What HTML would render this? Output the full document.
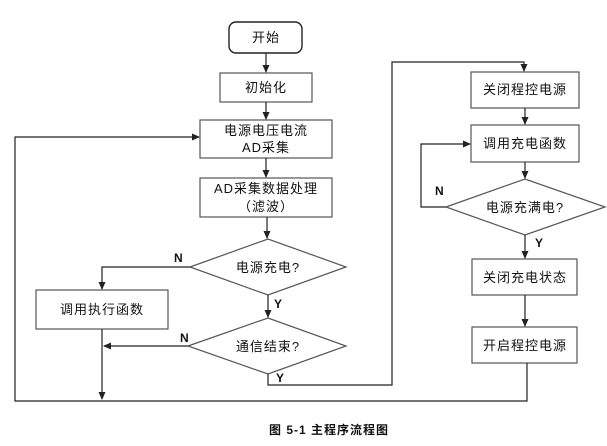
<!DOCTYPE html>
<html><head><meta charset="utf-8"><style>
html,body{margin:0;padding:0;background:#fff;}
svg text{font-family:"Liberation Sans","Noto Sans CJK SC",sans-serif;fill:#111;}
</style></head><body>
<svg width="607" height="441" viewBox="0 0 607 441" xmlns="http://www.w3.org/2000/svg">
<defs><marker id="a" markerWidth="8" markerHeight="8" refX="7" refY="4" orient="auto" markerUnits="userSpaceOnUse"><path d="M0,0.5 L8,4 L0,7.5z" fill="#222"/></marker></defs>
<g fill="none" stroke="#555" stroke-width="1.2">
<rect x="229" y="22" width="73" height="31" rx="7" stroke="#222" stroke-width="1.4"/>
<rect x="220" y="73" width="92" height="29"/>
<rect x="200" y="120" width="132" height="38"/>
<rect x="200" y="178" width="132" height="39"/>
<polygon points="190,267 268,239 346,267 268,295"/>
<polygon points="188,346 268,318 346,346 268,374"/>
<rect x="36" y="290" width="132" height="39"/>
<rect x="471" y="72" width="108" height="36"/>
<rect x="471" y="125" width="108" height="37"/>
<polygon points="446,207 525,179 605,207 525,235"/>
<rect x="472" y="259" width="105" height="36"/>
<rect x="472" y="327" width="105" height="36"/>
</g>
<g fill="none" stroke="#222" stroke-width="1.2">
<line x1="266" y1="53" x2="266" y2="72" marker-end="url(#a)"/>
<line x1="266" y1="102" x2="266" y2="119" marker-end="url(#a)"/>
<line x1="266" y1="158" x2="266" y2="177" marker-end="url(#a)"/>
<line x1="267" y1="217" x2="267" y2="238" marker-end="url(#a)"/>
<line x1="268" y1="295" x2="268" y2="317" marker-end="url(#a)"/>
<polyline points="190,267 102,267 102,289" marker-end="url(#a)"/>
<line x1="188" y1="346" x2="104" y2="346" marker-end="url(#a)"/>
<line x1="102" y1="329" x2="102" y2="399" marker-end="url(#a)"/>
<polyline points="527,363 527,401 15,401 15,137 199,137" marker-end="url(#a)"/>
<polyline points="268,374 268,385 392,385 392,62 524,62 524,71" marker-end="url(#a)"/>
<line x1="525" y1="108" x2="525" y2="124" marker-end="url(#a)"/>
<line x1="525" y1="162" x2="525" y2="178" marker-end="url(#a)"/>
<polyline points="446,207 421,207 421,144 470,144" marker-end="url(#a)"/>
<line x1="525" y1="235" x2="525" y2="258" marker-end="url(#a)"/>
<line x1="525" y1="295" x2="525" y2="326" marker-end="url(#a)"/>
</g>
<g font-size="13" text-anchor="middle" letter-spacing="1">
<text x="266" y="42">开始</text>
<text x="266" y="92">初始化</text>
<text x="266" y="135">电源电压电流</text>
<text x="266" y="152">AD采集</text>
<text x="266" y="193">AD采集数据处理</text>
<text x="266" y="211">（滤波）</text>
<text x="268" y="272">电源充电?</text>
<text x="268" y="351">通信结束?</text>
<text x="102" y="314">调用执行函数</text>
<text x="525" y="94">关闭程控电源</text>
<text x="525" y="148">调用充电函数</text>
<text x="525" y="212">电源充满电?</text>
<text x="525" y="282">关闭充电状态</text>
<text x="525" y="350">开启程控电源</text>
</g>
<g font-size="12" font-weight="bold">
<text x="174" y="262">N</text>
<text x="274" y="308">Y</text>
<text x="180" y="342">N</text>
<text x="276" y="382">Y</text>
<text x="435" y="195">N</text>
<text x="535" y="247">Y</text>
</g>
<text x="269" y="434" font-size="12" font-weight="bold" letter-spacing="1">图 5-1 主程序流程图</text>
</svg>
</body></html>
